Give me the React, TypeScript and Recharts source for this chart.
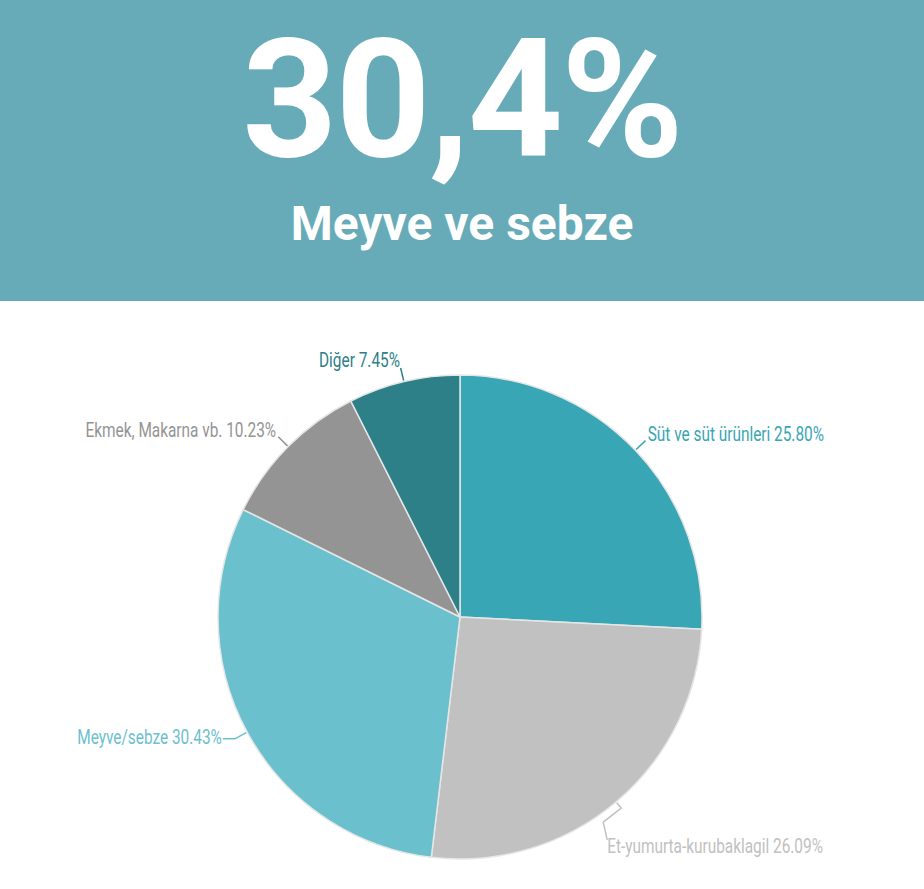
import React from "react";
import { PieChart, Pie, Cell } from "recharts";

const categories = ["Süt ve süt ürünleri", "Et-yumurta-kurubaklagil", "Meyve/sebze", "Ekmek, Makarna vb.", "Diğer"];
const shares = [25.8, 26.09, 30.43, 10.23, 7.45];
const colors = ["#38a6b4", "#c0c1c0", "#6ac1cd", "#949494", "#2d8088"];
const headline = "30,4%";
const subtitle = "Meyve ve sebze";

const data = categories.map((name, i) => ({ name, value: shares[i] }));

const RADIAN = Math.PI / 180;
const labelFont = "Roboto, sans-serif";
const SX = 0.77;

const LabelText = ({ x, y, color, anchor, text }: any) => (
  <text
    transform={`translate(${x},${y}) scale(${SX},1)`}
    x={0}
    y={0}
    fill={color}
    fontSize={20}
    fontFamily={labelFont}
    textAnchor={anchor}
    dominantBaseline="central"
  >
    {text}
  </text>
);

const renderLabel = (props: any) => {
  const { cx, cy, midAngle, outerRadius, index } = props;
  const c = Math.cos(-midAngle * RADIAN);
  const s = Math.sin(-midAngle * RADIAN);
  const color = colors[index];
  const text = `${categories[index]} ${shares[index].toFixed(2)}%`;
  const p0 = { x: cx + (outerRadius + 1) * c, y: cy + (outerRadius + 1) * s };
  if (s > 0.6) {
    const p1 = { x: cx + (outerRadius + 8) * c, y: cy + (outerRadius + 8) * s };
    const p2 = { x: p1.x - 18, y: p1.y + 14 };
    const p3 = { x: p2.x + 4, y: p2.y + 18 };
    return (
      <g>
        <polyline points={`${p0.x},${p0.y} ${p1.x},${p1.y} ${p2.x},${p2.y} ${p3.x},${p3.y}`} fill="none" stroke={color} strokeWidth={1.5} />
        <LabelText x={p3.x} y={p3.y + 6} color={color} anchor="start" text={text} />
      </g>
    );
  }
  const right = c >= 0;
  const p1 = { x: cx + (outerRadius + 14) * c, y: cy + (outerRadius + 14) * s };
  if (Math.abs(s) < 0.55) {
    const dir = right ? 1 : -1;
    const p2 = { x: p1.x + dir * 12, y: p1.y };
    return (
      <g>
        <polyline points={`${p0.x},${p0.y} ${p1.x},${p1.y} ${p2.x},${p2.y}`} fill="none" stroke={color} strokeWidth={1.5} />
        <LabelText x={p2.x + dir * 1} y={p2.y - 2} color={color} anchor={right ? "start" : "end"} text={text} />
      </g>
    );
  }
  const pt = { x: cx + (outerRadius + 17) * c, y: cy + (outerRadius + 17) * s };
  return (
    <g>
      <polyline points={`${p0.x},${p0.y} ${p1.x},${p1.y}`} fill="none" stroke={color} strokeWidth={1.5} />
      <LabelText x={pt.x} y={pt.y - 5} color={color} anchor={right ? "start" : "end"} text={text} />
    </g>
  );
};

export default function App() {
  return (
    <div style={{ position: "relative", width: 924, height: 889, background: "#ffffff", overflow: "hidden" }}>
      <style>{`body{margin:0}`}</style>
      <div style={{ position: "absolute", left: 0, top: 0, width: 924, height: 301, background: "#68abb8" }}>
        <div
          style={{
            position: "absolute",
            left: 0,
            width: 924,
            top: 10,
            textAlign: "center",
            color: "#ffffff",
            fontFamily: "Roboto, sans-serif",
            fontWeight: 700,
            fontSize: 166,
            lineHeight: "180px",
            letterSpacing: -2,
          }}
        >
          {headline}
        </div>
        <div
          style={{
            position: "absolute",
            left: 0,
            width: 924,
            top: 196,
            textAlign: "center",
            color: "#ffffff",
            fontFamily: "Roboto, sans-serif",
            fontWeight: 700,
            fontSize: 48,
            lineHeight: "56px",
          }}
        >
          {subtitle}
        </div>
      </div>
      <div style={{ position: "absolute", left: 0, top: 0 }}>
        <PieChart width={924} height={889} margin={{ top: 0, right: 0, bottom: 0, left: 0 }}>
          <Pie
            data={data}
            dataKey="value"
            nameKey="name"
            cx={460}
            cy={617}
            outerRadius={242}
            startAngle={90}
            endAngle={-270}
            stroke="#e6e6e6"
            strokeWidth={1.5}
            label={renderLabel}
            labelLine={false}
            isAnimationActive={false}
          >
            {data.map((d, i) => (
              <Cell key={d.name} fill={colors[i]} />
            ))}
          </Pie>
        </PieChart>
      </div>
    </div>
  );
}
